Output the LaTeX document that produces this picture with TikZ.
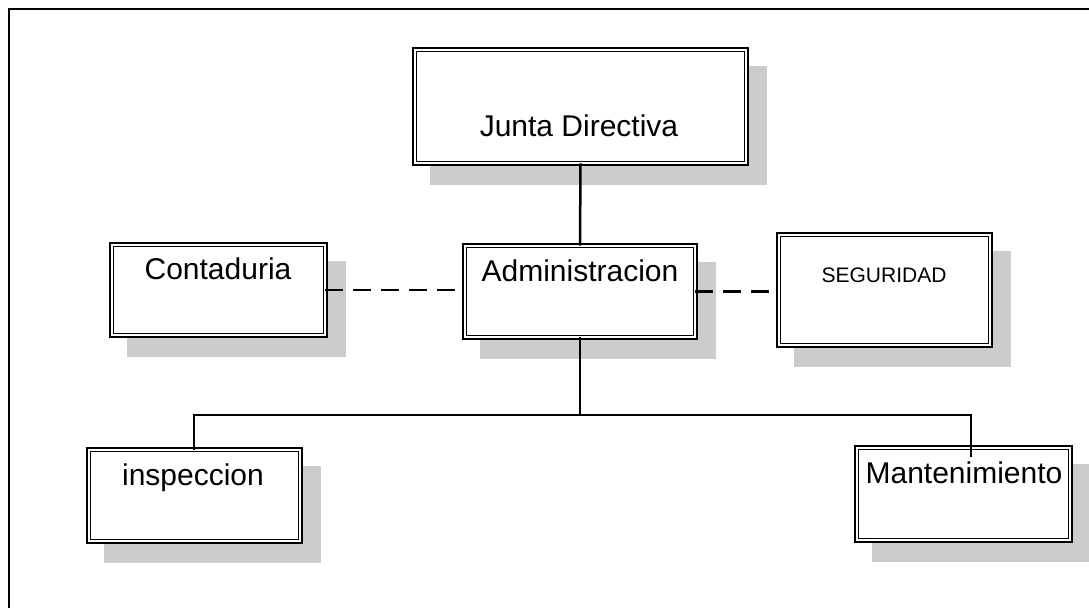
\documentclass[tikz,border=0pt]{standalone}
\usepackage{fontspec}
\setmainfont{Liberation Sans}
\usetikzlibrary{calc}
\definecolor{shadowgray}{RGB}{204,204,204}
% one organisational unit: grey offset shadow, then a double-ruled white box
% #1 name, (#2,#3) top-left and (#4,#5) bottom-right of the outer rule
\newcommand\unitbox[5]{%
  \fill[shadowgray] (#2+18,#3+19) rectangle (#4+18,#5+19);
  \node[unit, minimum width={(#4-#2-5.2)*1bp}, minimum height={(#5-#3-5.2)*1bp}]
    (#1) at ({(#2+#4)/2},{(#3+#5)/2}) {};
}
\begin{document}
\begin{tikzpicture}[x=1bp, y=-1bp,
  unit/.style={draw, double, double distance=2bp, line width=1.6bp,
    fill=white, inner sep=0pt, outer sep=0pt},
  lbl/.style={inner sep=0pt, anchor=base, font=\fontsize{30bp}{36bp}\selectfont},
  smalllbl/.style={inner sep=0pt, anchor=base, font=\fontsize{21bp}{25bp}\selectfont},
  link/.style={line width=2.5bp},
  staff/.style={line width=2.5bp, dash pattern=on 18bp off 10bp}]
\useasboundingbox (0,0) rectangle (1089,608);
% outer frame (only its top and left rules fall on the page)
\draw[line width=2bp] (1100,9.5) -- (8.5,9.5) -- (8.5,620);

\unitbox{junta}{412}{47}{749}{166}
\unitbox{conta}{109}{242}{328}{338}
\unitbox{admin}{462}{243}{698}{340}
\unitbox{segur}{776}{232}{993}{348}
\unitbox{insp}{86}{447}{303}{544}
\unitbox{mant}{854}{445}{1073}{543}

\node[lbl] (tjunta) at (579,137) {Junta Directiva};
\node[lbl] (tconta) at (218,280) {Contaduria};
\node[lbl] (tadmin) at (580,282) {Administracion};
\node[smalllbl] (tsegur) at (884,283) {SEGURIDAD};
\node[lbl] (tinsp) at (193,485) {inspeccion};
\node[lbl] (tmant) at (964,483) {Mantenimiento};

% line of authority
\coordinate (busmid) at (580,415);
\coordinate (busl) at (194,415);
\coordinate (busr) at (971,415);
\coordinate (mantend) at (971,457);
\draw[link] (junta.south) -- (admin.north);
\draw[link] (admin.south) -- (busmid);
\draw[link, line cap=rect] (busl) -- (busr);
\draw[link] (busl) -- (busl |- insp.north);
\draw[link] (busr) -- (mantend);

% staff (advisory) links
\draw[staff] (conta.east) -- (conta.east -| admin.west);
\draw[staff] (admin.east) -- (admin.east -| segur.west);
\end{tikzpicture}
\end{document}
